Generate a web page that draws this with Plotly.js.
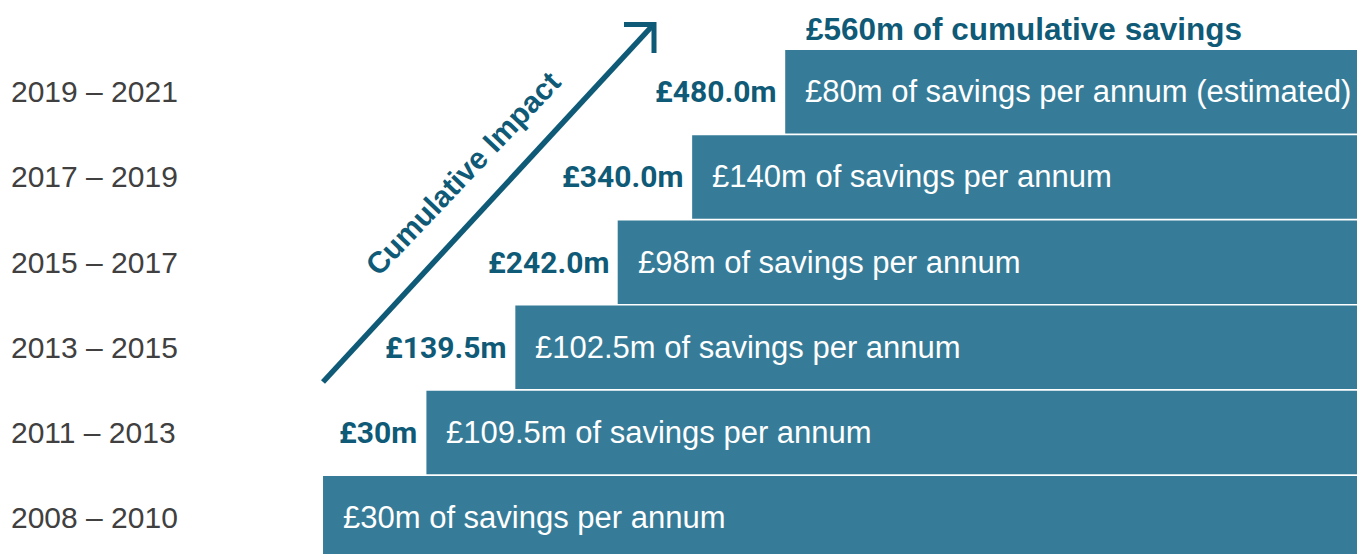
<!DOCTYPE html>
<html>
<head>
<meta charset="utf-8">
<script src="https://cdn.plot.ly/plotly-3.0.1.min.js"></script>
<style>
  html, body { margin: 0; padding: 0; background: #ffffff; }
  #chart { width: 1357px; height: 554px; }
</style>
</head>
<body>
<div id="chart"></div>
<script>
// ---- data (bottom row first) ----
const periods = ['2008 – 2010', '2011 – 2013', '2013 – 2015', '2015 – 2017', '2017 – 2019', '2019 – 2021'];
const annualSavingsLabels = [
  '£30m of savings per annum',
  '£109.5m of savings per annum',
  '£102.5m of savings per annum',
  '£98m of savings per annum',
  '£140m of savings per annum',
  '£80m of savings per annum (estimated)'
];
const cumulativeLabels = ['', '£30m', '£139.5m', '£242.0m', '£340.0m', '£480.0m'];
// step at which each row's bar begins (invisible offset series, arbitrary units)
const stepStart = [0, 10, 18.6, 28.5, 35.7, 44.7];
const barEnd = 100;
const titleText = '£560m of cumulative savings';
const arrowText = 'Cumulative Impact';

// ---- styling ----
const W = 1357, H = 554, MT = 40;
const barColor = '#367c98';
const darkTeal = '#0f5a76';
const greyText = '#404040';
const px = x => x / W;
const py = y => (H - y) / (H - MT);

const trace = {
  type: 'bar',
  orientation: 'h',
  y: periods,
  base: stepStart,
  x: stepStart.map(s => barEnd - s),
  marker: { color: barColor, line: { width: 0 } },
  hoverinfo: 'skip',
  showlegend: false
};

const annotations = [];
periods.forEach((p, i) => {
  annotations.push({
    xref: 'paper', yref: 'y', x: px(9), y: p, xanchor: 'left', yanchor: 'middle',
    text: p, showarrow: false,
    font: { family: 'Liberation Sans, Arial, sans-serif', size: 30, color: greyText }
  });
  annotations.push({
    xref: 'x', yref: 'y', x: stepStart[i], y: p, xanchor: 'left', yanchor: 'middle',
    xshift: 18, text: annualSavingsLabels[i], showarrow: false,
    font: { family: 'Liberation Sans, Arial, sans-serif', size: 31, color: '#ffffff' }
  });
  if (cumulativeLabels[i]) {
    annotations.push({
      xref: 'x', yref: 'y', x: stepStart[i], y: p, xanchor: 'right', yanchor: 'middle',
      xshift: -7, text: '<b>' + cumulativeLabels[i] + '</b>', showarrow: false,
      font: { family: 'Roboto, sans-serif', size: 30, color: darkTeal }
    });
  }
});
annotations.push({
  xref: 'paper', yref: 'paper', x: px(463), y: py(174), xanchor: 'center', yanchor: 'middle',
  text: '<b>' + arrowText + '</b>', showarrow: false, textangle: -46.5,
  font: { family: 'Liberation Sans, Arial, sans-serif', size: 30, color: darkTeal }
});

const shapes = [
  { type: 'line', xref: 'paper', yref: 'paper', x0: px(323), y0: py(382), x1: px(654), y1: py(24),
    line: { color: darkTeal, width: 5.5 } },
  { type: 'path', xref: 'paper', yref: 'paper',
    path: `M ${px(624)} ${py(24.5)} L ${px(654)} ${py(24.5)} L ${px(654)} ${py(53)}`,
    line: { color: darkTeal, width: 5 } }
];

const layout = {
  width: W, height: H,
  margin: { l: 0, r: 0, t: MT, b: 0, pad: 0 },
  paper_bgcolor: '#ffffff', plot_bgcolor: '#ffffff',
  title: {
    text: '<b>' + titleText + '</b>',
    x: px(806), xref: 'paper', xanchor: 'left',
    y: 1 - 29 / H, yref: 'container', yanchor: 'middle',
    font: { family: 'Liberation Sans, Arial, sans-serif', size: 31.5, color: darkTeal }
  },
  bargap: 0.02,
  xaxis: { range: [-31.24, barEnd], visible: false, fixedrange: true },
  yaxis: { type: 'category', range: [-0.4255, 5.607], visible: false, fixedrange: true },
  annotations: annotations,
  shapes: shapes,
  showlegend: false
};

Plotly.newPlot('chart', [trace], layout, { displayModeBar: false, staticPlot: true });
</script>
</body>
</html>
